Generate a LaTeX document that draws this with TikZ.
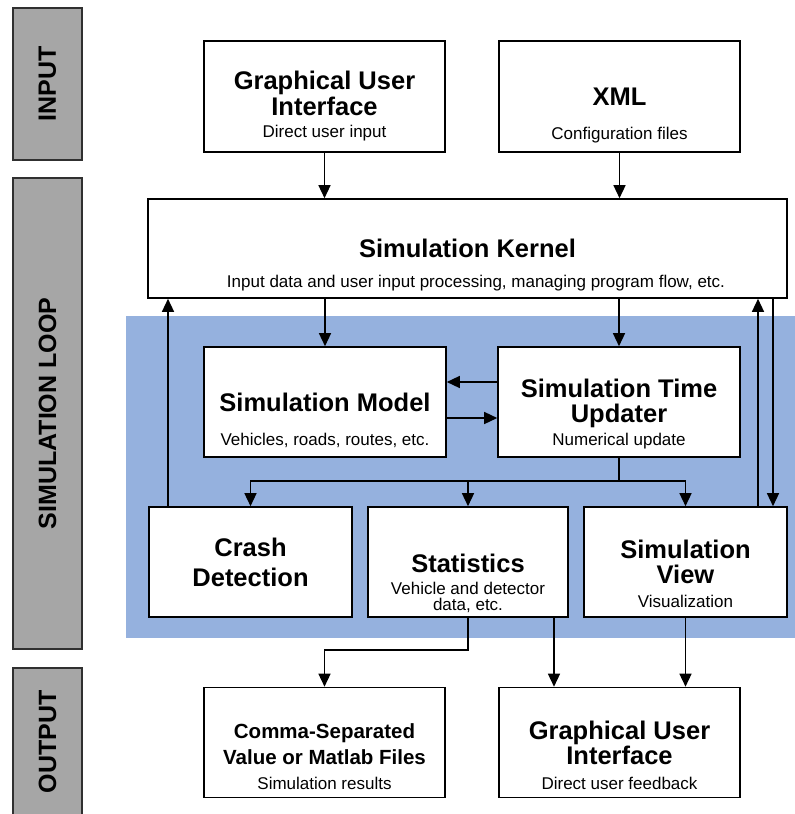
\documentclass[tikz,border=0pt]{standalone}
\usepackage{fontspec}
\setmainfont{Liberation Sans}
\usetikzlibrary{arrows.meta,calc}

\definecolor{loopblue}{HTML}{95B1DE}
\definecolor{bargray}{HTML}{A6A6A6}
\definecolor{barline}{HTML}{303030}

\tikzset{
  box/.style={draw=black, line width=1.6pt, fill=white, inner sep=0pt, rectangle},
  phase/.style={draw=barline, line width=1.5pt, fill=bargray, inner sep=0pt,
    rotate=90, font=\fontsize{25}{26}\selectfont\bfseries},
  ttl/.style={anchor=base, inner sep=0pt, font=\fontsize{25.5}{26}\selectfont\bfseries},
  ttlsm/.style={anchor=base, inner sep=0pt, font=\fontsize{20.5}{22}\selectfont\bfseries},
  sub/.style={anchor=base, inner sep=0pt, font=\fontsize{17}{18}\selectfont},
  arr/.style={line width=1.4pt, -{Triangle[length=13pt,width=12pt]}},
  wire/.style={line width=1.4pt}
}

\begin{document}
\begin{tikzpicture}[x=1pt,y=-1pt]
\useasboundingbox (0,0) rectangle (795,814);

% phase bars on the left
\node[phase, minimum width=152, minimum height=69] (pin) at (47.5,84) {INPUT};
\node[phase, minimum width=471, minimum height=69] (ploop) at (47.5,413.5) {SIMULATION LOOP};
\node[phase, minimum width=148, minimum height=69] (pout) at (47.5,742) {OUTPUT};

% blue simulation loop area
\fill[loopblue] (126,316) rectangle (795,638);

% input boxes
\node[box, minimum width=241, minimum height=111] (guiin) at (324.5,96.5) {};
\node[ttl] (guiin-a) at (324.5,89) {Graphical User};
\node[ttl] (guiin-b) at (324.5,115) {Interface};
\node[sub] (guiin-c) at (324.5,137) {Direct user input};

\node[box, minimum width=241, minimum height=111] (xml) at (619.5,96.5) {};
\node[ttl] (xml-a) at (619.5,105) {XML};
\node[sub] (xml-c) at (619.5,139) {Configuration files};

% kernel
\node[box, minimum width=639, minimum height=99] (kernel) at (467.5,248.5) {};
\node[ttl] (kernel-a) at (467.5,257) {Simulation Kernel};
\node[sub] (kernel-c) at (476,287) {Input data and user input processing, managing program flow, etc.};

% model and time updater
\node[box, minimum width=242, minimum height=110] (model) at (325,402) {};
\node[ttl] (model-a) at (325,411) {Simulation Model};
\node[sub] (model-c) at (325,445) {Vehicles, roads, routes, etc.};

\node[box, minimum width=242, minimum height=110] (upd) at (619,402) {};
\node[ttl] (upd-a) at (619,397) {Simulation Time};
\node[ttl] (upd-b) at (619,422) {Updater};
\node[sub] (upd-c) at (619,445) {Numerical update};

% crash detection, statistics, view
\node[box, minimum width=203, minimum height=110] (crash) at (250.5,562) {};
\node[ttl] (crash-a) at (250.5,556) {Crash};
\node[ttl] (crash-b) at (250.5,586) {Detection};

\node[box, minimum width=200, minimum height=110] (stat) at (468,562) {};
\node[ttl] (stat-a) at (468,572) {Statistics};
\node[sub] (stat-c) at (468,594) {Vehicle and detector};
\node[sub] (stat-d) at (468,610) {data, etc.};

\node[box, minimum width=203, minimum height=110] (view) at (685.5,562) {};
\node[ttl] (view-a) at (685.5,558) {Simulation};
\node[ttl] (view-b) at (685.5,583) {View};
\node[sub] (view-c) at (685.5,607) {Visualization};

% output boxes
\node[box, minimum width=241, minimum height=110] (csv) at (324.5,742.5) {};
\node[ttlsm] (csv-a) at (324.5,738) {Comma-Separated};
\node[ttlsm] (csv-b) at (324.5,764) {Value or Matlab Files};
\node[sub] (csv-c) at (324.5,789) {Simulation results};

\node[box, minimum width=241, minimum height=110] (guiout) at (619.5,742.5) {};
\node[ttl] (guiout-a) at (619.5,739) {Graphical User};
\node[ttl] (guiout-b) at (619.5,764) {Interface};
\node[sub] (guiout-c) at (619.5,789) {Direct user feedback};

% input flow
\draw[arr] (guiin.south) -- (guiin.south |- kernel.north);
\draw[arr] (xml.south) -- (xml.south |- kernel.north);

% kernel to model / updater
\draw[arr] (model.north |- kernel.south) -- (model.north);
\draw[arr] (upd.north |- kernel.south) -- (upd.north);

% exchange between updater and model
\draw[arr] ([yshift=20pt]upd.west) -- ([yshift=20pt]model.east);
\draw[arr] ([yshift=-16pt]model.east) -- ([yshift=-16pt]upd.west);

% updater fans out to the three lower modules
\coordinate (split) at (619,481);
\draw[wire] (upd.south) -- (split);
\draw[arr] (split) -| (crash.north);
\draw[arr] (split) -| (view.north);
\draw[arr] (stat.north |- split) -- (stat.north);

% feedback to the kernel
\draw[arr] ([xshift=-82.5pt]crash.north) -- ([xshift=-82.5pt]crash.north |- kernel.south);
\draw[arr] ([xshift=72.5pt]view.north) -- ([xshift=72.5pt]view.north |- kernel.south);
\draw[arr] ([xshift=87.5pt]view.north |- kernel.south) -- ([xshift=87.5pt]view.north);

% output flow
\coordinate (statbend) at (468,650);
\draw[arr] (stat.south) -- (statbend) -| (csv.north);
\draw[arr] ([xshift=86pt]stat.south) -- ([xshift=86pt]stat.south |- guiout.north);
\draw[arr] (view.south) -- (view.south |- guiout.north);
\end{tikzpicture}
\end{document}
